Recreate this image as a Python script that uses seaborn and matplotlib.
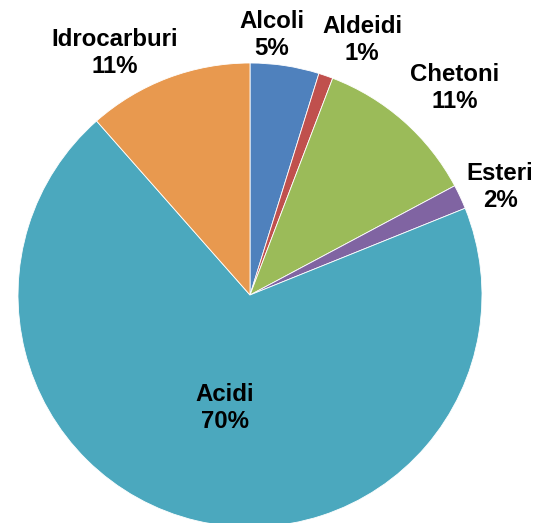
import matplotlib
matplotlib.use("Agg")
import matplotlib.pyplot as plt
import seaborn as sns

# Composition of volatile compounds by chemical class (%)
categories = ["Alcoli", "Aldeidi", "Chetoni", "Esteri", "Acidi", "Idrocarburi"]
shares = [4.8, 1.0, 11.4, 1.7, 69.6, 11.5]
pct_labels = ["5%", "1%", "11%", "2%", "70%", "11%"]

colors = sns.color_palette(["#4F81BD", "#C0504D", "#9BBB59", "#8064A2",
                            "#4BA8BE", "#E8994F"])

# label anchor points in units of the pie radius (centre = 0,0)
label_xy = [(0.095, 1.121), (0.483, 1.099), (0.884, 0.892),
            (1.078, 0.466), (-0.108, -0.487), (-0.584, 1.043)]

sns.set_theme(style="white")
plt.rcParams["font.family"] = ["Liberation Sans", "DejaVu Sans"]

W, H, R = 536, 523, 232.0
cx, cy = 250, 295
fig = plt.figure(figsize=(W / 100, H / 100), dpi=100)
ax = fig.add_axes([0, 0, 1, 1])

ax.pie(shares, colors=colors, startangle=90, counterclock=False,
       radius=1.0, center=(0, 0),
       wedgeprops=dict(edgecolor="white", linewidth=0.6))

for name, pct, (x, y) in zip(categories, pct_labels, label_xy):
    ax.text(x, y, f"{name}\n{pct}", ha="center", va="center",
            fontsize=17.3, fontweight="bold", color="black",
            linespacing=1.22)

ax.set_xlim(-cx / R, (W - cx) / R)
ax.set_ylim(-(H - cy) / R, cy / R)
ax.set_aspect("auto")
ax.axis("off")

fig.savefig("out.png", dpi=100, facecolor="white")
